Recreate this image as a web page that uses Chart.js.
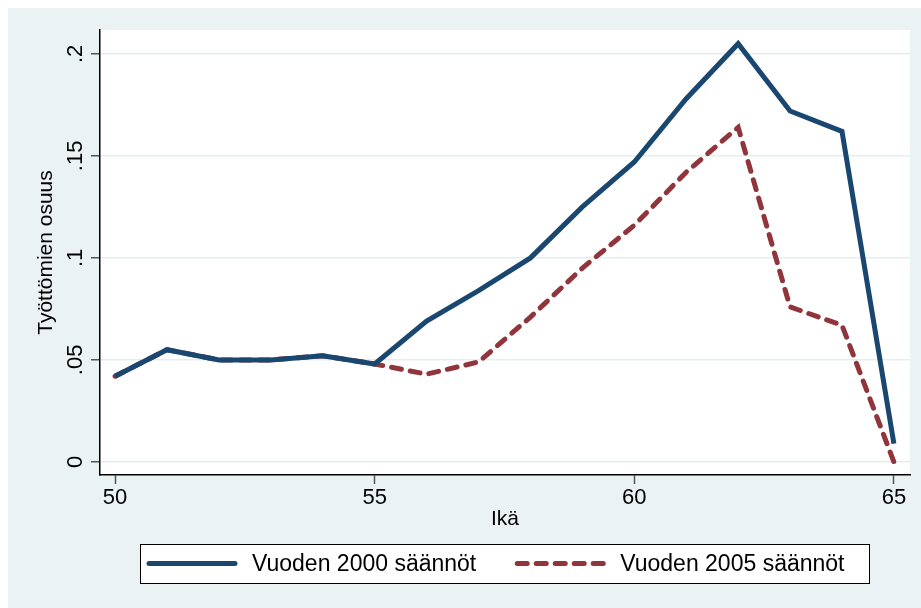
<!DOCTYPE html>
<html>
<head>
<meta charset="utf-8">
<script src="https://cdn.jsdelivr.net/npm/chart.js@4/dist/chart.umd.min.js"></script>
<style>
  body { margin: 0; background: #fff; }
  #wrap { width: 921px; height: 608px; }
</style>
</head>
<body>
<div id="wrap"><canvas id="chart" width="921" height="608"></canvas></div>
<script>
// ikä (x-akseli)
const ages = [50, 51, 52, 53, 54, 55, 56, 57, 58, 59, 60, 61, 62, 63, 64, 65];
// vuoden 2000 säännöt
const rules2000 = [0.042, 0.055, 0.050, 0.050, 0.052, 0.048, 0.069, 0.084, 0.100, 0.125, 0.147, 0.178, 0.205, 0.172, 0.162, 0.009];
// vuoden 2005 säännöt
const rules2005 = [0.042, 0.055, 0.050, 0.050, 0.052, 0.048, 0.043, 0.049, 0.071, 0.095, 0.116, 0.142, 0.164, 0.076, 0.067, 0.000];
const seriesNames = ['Vuoden 2000 säännöt', 'Vuoden 2005 säännöt'];
const xTicks = [50, 55, 60, 65];
const yTicks = [0, 0.05, 0.1, 0.15, 0.2];
const yTickLabels = ['0', '.05', '.1', '.15', '.2'];

const BG = '#EAF2F3';
Chart.defaults.font.family = "'Liberation Sans', Arial, sans-serif";
Chart.defaults.font.size = 21;
Chart.defaults.color = '#000';

// tausta ja valkoinen kuva-alue
const backgroundPlugin = {
    id: 'stataBackground',
    beforeDraw(chart) {
        const { ctx, chartArea } = chart;
        ctx.save();
        ctx.fillStyle = '#fff';
        ctx.fillRect(0, 0, chart.width, chart.height);
        ctx.fillStyle = BG;
        ctx.fillRect(8, 8, chart.width - 8, chart.height - 8);
        ctx.fillStyle = '#fff';
        ctx.fillRect(chartArea.left, chartArea.top, chartArea.right - chartArea.left, chartArea.bottom - chartArea.top);
        ctx.restore();
    }
};

// selite laatikossa kuvan alla
const legendBoxPlugin = {
    id: 'legendBox',
    afterDraw(chart) {
        const { ctx, chartArea } = chart;
        const cx = (chartArea.left + chartArea.right) / 2;
        const top = 544, bottom = 583;
        const midY = (top + bottom) / 2;
        ctx.save();
        ctx.fillStyle = '#fff';
        ctx.fillRect(cx - 365, top, 729, bottom - top);
        ctx.strokeStyle = '#000';
        ctx.lineWidth = 1;
        ctx.strokeRect(cx - 365 + 0.5, top + 0.5, 729, bottom - top);

        ctx.font = "23px 'Liberation Sans', Arial, sans-serif";
        ctx.textBaseline = 'middle';
        ctx.textAlign = 'left';
        let x = cx - 356;
        chart.data.datasets.forEach(ds => {
            ctx.beginPath();
            ctx.strokeStyle = ds.borderColor;
            ctx.lineWidth = ds.borderWidth;
            ctx.lineCap = 'round';
            ctx.setLineDash(ds.borderDash || []);
            ctx.moveTo(x, midY);
            ctx.lineTo(x + 86, midY);
            ctx.stroke();
            ctx.setLineDash([]);
            ctx.fillStyle = '#000';
            ctx.fillText(ds.label, x + 103, midY + 1);
            x += 103 + ctx.measureText(ds.label).width + 41;
        });
        ctx.restore();
    }
};

const ctx = document.getElementById('chart').getContext('2d');
new Chart(ctx, {
    type: 'line',
    data: {
        datasets: [{
            label: seriesNames[0],
            data: ages.map((a, i) => ({ x: a, y: rules2000[i] })),
            borderColor: '#1A476F',
            borderWidth: 5,
            pointRadius: 0,
            tension: 0
        }, {
            label: seriesNames[1],
            data: ages.map((a, i) => ({ x: a, y: rules2005[i] })),
            borderColor: '#90353B',
            borderWidth: 5,
            borderDash: [10, 9],
            borderCapStyle: 'round',
            pointRadius: 0,
            tension: 0
        }]
    },
    options: {
        responsive: false,
        devicePixelRatio: 1,
        animation: false,
        layout: { padding: { top: 30, right: 11, bottom: 76, left: 0 } },
        plugins: {
            legend: { display: false },
            tooltip: { enabled: false }
        },
        scales: {
            x: {
                type: 'linear',
                min: 49.71,
                max: 65.31,
                afterBuildTicks: s => { s.ticks = xTicks.map(v => ({ value: v })); },
                afterFit: s => { s.height = 57; },
                grid: { drawOnChartArea: false, tickLength: 9, tickColor: '#555', tickWidth: 1.5 },
                border: { color: '#000', width: 1.5 },
                ticks: { padding: 1, maxRotation: 0, font: { size: 22 } },
                title: { display: true, text: 'Ikä', font: { size: 21 }, padding: { top: 0, bottom: 0 } }
            },
            y: {
                min: -0.0064,
                max: 0.2117,
                afterBuildTicks: s => { s.ticks = yTicks.map(v => ({ value: v })); },
                afterFit: s => { s.width = 100; },
                grid: { color: '#E4EDEF', lineWidth: 1.5, tickLength: 9, tickColor: '#555', tickWidth: 1.5 },
                border: { color: '#000', width: 1.5 },
                ticks: {
                    minRotation: 90,
                    maxRotation: 90,
                    crossAlign: 'center',
                    padding: 0,
                    font: { size: 22 },
                    callback: (v) => {
                        const i = yTicks.findIndex(t => Math.abs(t - v) < 1e-9);
                        return i >= 0 ? yTickLabels[i] : '';
                    }
                },
                title: { display: true, text: 'Työttömien osuus', font: { size: 21 }, padding: { top: 34, bottom: 0 } }
            }
        }
    },
    plugins: [backgroundPlugin, legendBoxPlugin]
});
</script>
</body>
</html>
